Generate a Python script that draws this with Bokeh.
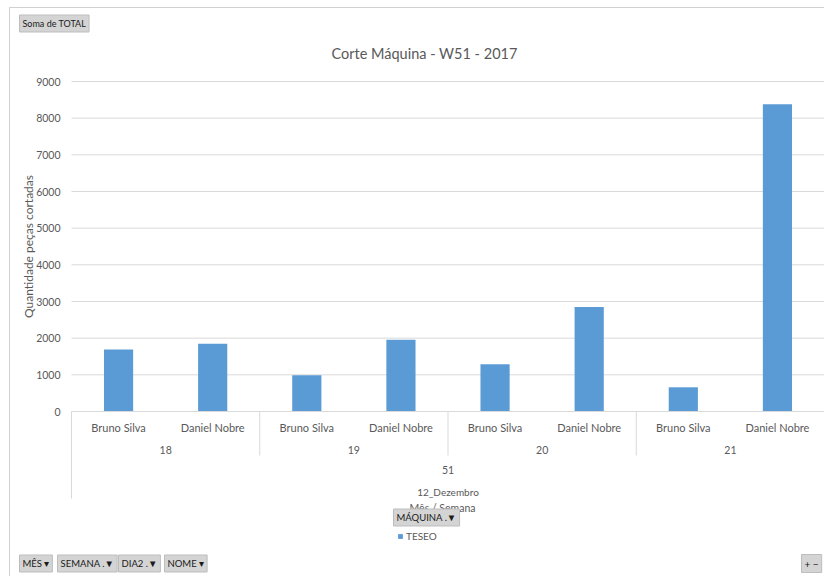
from bokeh.plotting import figure
from bokeh.models import Range1d, FixedTicker, Label, ColumnDataSource
from bokeh.core.properties import value
from bokeh.embed import file_html
from bokeh.resources import INLINE

# ---------------- data ----------------
month = "12_Dezembro"
week = "51"
days = ["18", "19", "20", "21"]
names = ["Bruno Silva", "Daniel Nobre"]
bruno_silva = [1690, 990, 1290, 660]
daniel_nobre = [1850, 1960, 2850, 8380]
y_ticks = [0, 1000, 2000, 3000, 4000, 5000, 6000, 7000, 8000, 9000]
series_name = "TESEO"
title_text = "Corte Máquina - W51 - 2017"
y_title = "Quantidade peças cortadas"
x_title = "Mês / Semana"

# flatten the hierarchy (day -> name) into ordered slots
slot_x, slot_val, slot_name = [], [], []
for i, d in enumerate(days):
    for j, nm in enumerate(names):
        k = i * len(names) + j
        slot_x.append(k + 0.5)
        slot_name.append(nm)
        slot_val.append(bruno_silva[i] if j == 0 else daniel_nobre[i])
n_slots = len(slot_x)

FONT = "Lato"
GRAY = "#595959"
GRID = "#d9d9d9"
W, H = 824, 576
L, R, T, B = 71, 824, 81, 411   # plot-area pixels inside the chart


def dx(px):
    return (px - L) / (R - L) * n_slots


def dy(py):
    return (B - py) / (B - T) * y_ticks[-1]


p = figure(x_range=Range1d(dx(0), dx(W)), y_range=Range1d(dy(H), dy(0)),
           width=W, height=H, output_backend="svg", toolbar_location=None,
           x_axis_location=None, y_axis_location="left",
           min_border_left=0, min_border_right=0, min_border_top=0, min_border_bottom=0)
p.outline_line_color = None
p.background_fill_color = "white"
p.border_fill_color = "white"
p.xgrid.grid_line_color = None
p.ygrid.grid_line_color = None

# chart-area border
p.segment(x0=[dx(9), dx(9)], y0=[dy(7), dy(7)], x1=[dx(W + 5), dx(9)], y1=[dy(7), dy(H + 5)],
          line_color="#d0d0d0", line_width=1)

# horizontal gridlines from the tick list
p.segment(x0=[0] * len(y_ticks), y0=y_ticks, x1=[dx(W + 5)] * len(y_ticks), y1=y_ticks,
          line_color=GRID, line_width=1)

# bars
src = ColumnDataSource(dict(x=slot_x, top=slot_val))
p.vbar(x="x", top="top", width=0.31, source=src, color="#5B9BD5", line_color=None,
       legend_label=series_name)

# y axis (real axis, pinned to the plot-area left edge)
yax = p.yaxis[0]
yax.fixed_location = 0
yax.bounds = (y_ticks[0], y_ticks[-1])
yax.ticker = FixedTicker(ticks=y_ticks)
yax.axis_line_color = None
yax.major_tick_line_color = None
yax.minor_tick_line_color = None
yax.major_label_text_font = FONT
yax.major_label_text_font_size = "10.5px"
yax.major_label_text_color = GRAY
yax.major_label_standoff = 5
yax.axis_label = y_title
yax.axis_label_text_font = FONT
yax.axis_label_text_font_size = "12px"
yax.axis_label_text_font_style = "normal"
yax.axis_label_text_color = GRAY
yax.axis_label_standoff = -3

# category axis (hierarchical labels + separators)
p.segment(x0=[0], y0=[0], x1=[dx(W + 5)], y1=[0], line_color=GRID, line_width=1)
sep_x = [len(names) * i for i in range(1, len(days))]
p.segment(x0=sep_x, y0=[0] * len(sep_x), x1=sep_x, y1=[dy(455)] * len(sep_x),
          line_color=GRID, line_width=1)
p.segment(x0=[0], y0=[0], x1=[0], y1=[dy(498)], line_color=GRID, line_width=1)

p.text(x=slot_x, y=[dy(427)] * n_slots, text=slot_name, text_font=value(FONT),
       text_font_size="11px", text_color=GRAY, text_align="center", text_baseline="middle")
day_x = [len(names) * (i + 0.5) for i in range(len(days))]
p.text(x=day_x, y=[dy(449)] * len(days), text=days, text_font=value(FONT),
       text_font_size="10.5px", text_color=GRAY, text_align="center", text_baseline="middle")
p.text(x=[n_slots / 2], y=[dy(469)], text=[week], text_font=value(FONT),
       text_font_size="10.5px", text_color=GRAY, text_align="center", text_baseline="middle")
p.text(x=[n_slots / 2], y=[dy(491)], text=[month], text_font=value(FONT),
       text_font_size="10px", text_color=GRAY, text_align="center", text_baseline="middle")
p.text(x=[dx(442)], y=[dy(507)], text=[x_title], text_font=value(FONT),
       text_font_size="10.5px", text_color=GRAY, text_align="center", text_baseline="middle")

# title
p.add_layout(Label(x=dx(424), y=dy(53), text=title_text, text_font=FONT,
                   text_font_size="14.5px", text_color=GRAY, text_align="center",
                   text_baseline="middle"))


def button(px, py, text, size="9.5px"):
    p.add_layout(Label(x=dx(px), y=dy(py), text=text, text_font=FONT,
                       text_font_size=size, text_color="#1a1a1a", text_align="left",
                       text_baseline="middle", background_fill_color="#d4d4d4",
                       border_line_color="#bdbdbd", padding=3))


button(19, 23, "Soma de TOTAL", "9px")
button(393, 517, "MÁQUINA .▼")
button(19, 563, "MÊS ▾")
button(57, 563, "SEMANA .▼")
button(118, 563, "DIA2 .▼")
button(164, 563, "NOME ▾")
button(801, 563, "+ −", "10px")

# legend
leg = p.legend[0]
leg.location = (397, H - 542)
leg.border_line_color = None
leg.background_fill_alpha = 0
leg.label_text_font = FONT
leg.label_text_font_size = "10px"
leg.label_text_color = GRAY
leg.glyph_width = 6
leg.glyph_height = 6
leg.padding = 0
leg.margin = 0
leg.spacing = 0
leg.label_standoff = 3
leg.label_height = 10
leg.label_width = 10

open("out.html", "w").write(file_html(p, INLINE))
